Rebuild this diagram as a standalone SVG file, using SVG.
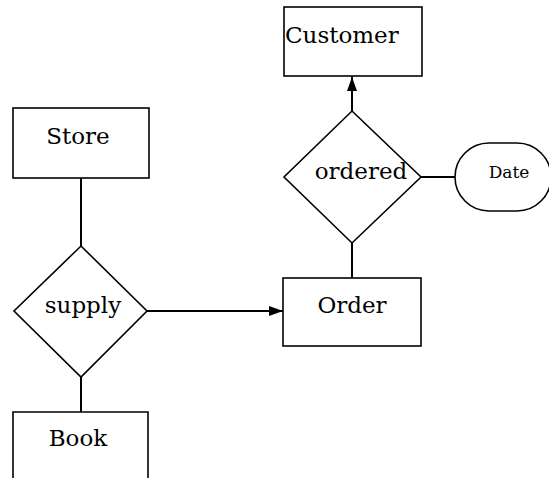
<svg xmlns="http://www.w3.org/2000/svg" width="549" height="478" viewBox="0 0 549 478">
<style>
.box{fill:#fff;stroke:#000;stroke-width:1.6}
.ln{fill:none;stroke:#000;stroke-width:2}
text{font-family:"DejaVu Serif","Liberation Serif",serif;font-size:23px;fill:#000}
.c{text-anchor:middle}
</style>
<defs>
<marker id="arr" viewBox="0 0 14 10" refX="14" refY="5" markerWidth="14" markerHeight="10" markerUnits="userSpaceOnUse" orient="auto">
<path d="M0,0 L14,5 L0,10 Z" fill="#000"/>
</marker>
</defs>
<rect width="549" height="478" fill="#fff"/>
<g id="connectors">
<line class="ln" x1="352" y1="111" x2="352" y2="77" marker-end="url(#arr)"/>
<line class="ln" x1="421" y1="177" x2="455" y2="177"/>
<line class="ln" x1="352" y1="243" x2="352" y2="278"/>
<line class="ln" x1="81" y1="178" x2="81" y2="246"/>
<line class="ln" x1="147" y1="311" x2="283" y2="311" marker-end="url(#arr)"/>
<line class="ln" x1="81" y1="376" x2="81" y2="412"/>
</g>
<g id="customer">
<rect class="box" x="284" y="7" width="138" height="69"/>
<text x="285" y="43">Customer</text>
</g>
<g id="ordered">
<polygon class="box" points="352,111 421,177 352,243 284,177"/>
<text class="c" x="361" y="179">ordered</text>
</g>
<g id="date">
<rect class="box" x="455" y="143" width="96" height="68" rx="34" ry="34"/>
<text class="c" x="509" y="178" style="font-size:17px">Date</text>
</g>
<g id="order">
<rect class="box" x="283" y="278" width="138" height="68"/>
<text class="c" x="352" y="313">Order</text>
</g>
<g id="store">
<rect class="box" x="13" y="108" width="136" height="70"/>
<text class="c" x="78" y="144">Store</text>
</g>
<g id="supply">
<polygon class="box" points="81,246 147,311 81,377 14,311"/>
<text class="c" x="83" y="313">supply</text>
</g>
<g id="book">
<path class="box" d="M13,480 L13,412 L148,412 L148,480"/>
<text class="c" x="78" y="446">Book</text>
</g>
</svg>
